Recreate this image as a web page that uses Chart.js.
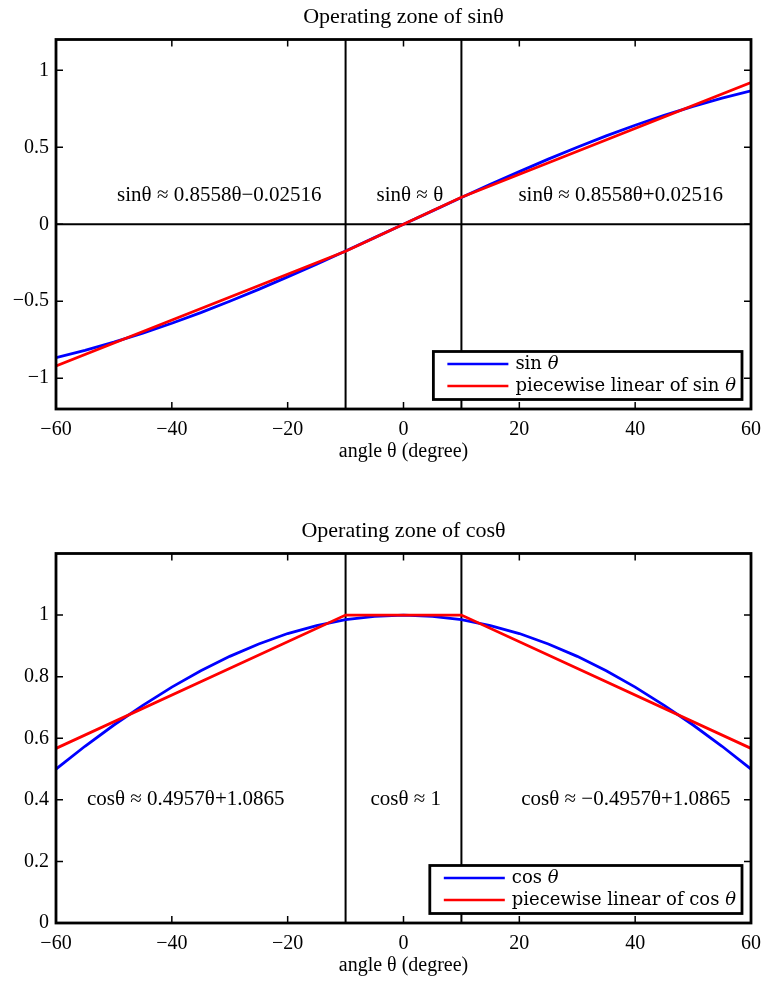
<!DOCTYPE html>
<html>
<head>
<meta charset="utf-8">
<script src="https://cdn.jsdelivr.net/npm/chart.js@4"></script>
<style>
  body { margin: 0; background: #fff; }
  #wrap { position: relative; width: 764px; height: 983px; }
  canvas { position: absolute; left: 0; }
</style>
</head>
<body>
<div id="wrap">
  <canvas id="sinChart" width="764" height="469" style="top:0"></canvas>
  <canvas id="cosChart" width="764" height="469" style="top:514px"></canvas>
</div>
<script>
/* --------------- Data --------------------- */
const angles = [-60, -55, -50, -45, -40, -35, -30, -25, -20, -15, -10, -5, 0,
                5, 10, 15, 20, 25, 30, 35, 40, 45, 50, 55, 60];
const sinValues = [-0.866, -0.819, -0.766, -0.707, -0.643, -0.574, -0.5, -0.423, -0.342, -0.259, -0.174, -0.087, 0,
                   0.087, 0.174, 0.259, 0.342, 0.423, 0.5, 0.574, 0.643, 0.707, 0.766, 0.819, 0.866];
const cosValues = [0.5, 0.574, 0.643, 0.707, 0.766, 0.819, 0.866, 0.906, 0.94, 0.966, 0.985, 0.996, 1,
                   0.996, 0.985, 0.966, 0.94, 0.906, 0.866, 0.819, 0.766, 0.707, 0.643, 0.574, 0.5];

const breakAngles = [-60, -10, 10, 60];
const sinLinear = [-0.921, -0.175, 0.175, 0.921];
const cosLinear = [0.567, 1, 1, 0.567];

const zoneEdges = [-10, 10];

const xTicks = [-60, -40, -20, 0, 20, 40, 60];
const sinTicks = [-1, -0.5, 0, 0.5, 1];
const cosTicks = [0, 0.2, 0.4, 0.6, 0.8, 1];

const sinNotes = ["sinθ ≈ 0.8558θ−0.02516", "sinθ ≈ θ", "sinθ ≈ 0.8558θ+0.02516"];
const cosNotes = ["cosθ ≈ 0.4957θ+1.0865", "cosθ ≈ 1", "cosθ ≈ −0.4957θ+1.0865"];

const SERIF = '"Liberation Serif", "Times New Roman", serif';
const LEG_FONT = '"DejaVu Serif", serif';
const LEG_SIZE = 18;

const pts = (xs, ys) => xs.map((v, i) => ({ x: v, y: ys[i] }));
const minus = (v) => String(v).replace("-", "\u2212");

/* --------------- Box, inward ticks, title, notes, legend --------------------- */
const matlabBox = {
  id: "matlabBox",
  afterDatasetsDraw(chart, args, opts) {
    const { ctx, chartArea: a, scales } = chart;
    const x = scales.x, y = scales.y;
    ctx.save();
    ctx.strokeStyle = "#000";
    ctx.fillStyle = "#000";

    // ticks pointing inward on all four sides
    ctx.lineWidth = 1.5;
    ctx.beginPath();
    x.ticks.forEach((t) => {
      const px = x.getPixelForValue(t.value);
      ctx.moveTo(px, a.bottom); ctx.lineTo(px, a.bottom - 7);
      ctx.moveTo(px, a.top); ctx.lineTo(px, a.top + 7);
    });
    y.ticks.forEach((t) => {
      const py = y.getPixelForValue(t.value);
      ctx.moveTo(a.left, py); ctx.lineTo(a.left + 7, py);
      ctx.moveTo(a.right, py); ctx.lineTo(a.right - 7, py);
    });
    ctx.stroke();

    // title centred over the plot box (matlab style)
    ctx.font = "22px " + SERIF;
    ctx.textAlign = "center";
    ctx.textBaseline = "middle";
    ctx.fillText(opts.title, (a.left + a.right) / 2, a.top - 22);

    // text notes in each zone
    ctx.font = "21px " + SERIF;
    opts.notes.forEach((n) => {
      ctx.fillText(n.text, x.getPixelForValue(n.x), y.getPixelForValue(n.y));
    });

    // legend in lower right corner
    const items = chart.data.datasets.filter((d) => d.label);
    ctx.font = LEG_SIZE + "px " + LEG_FONT;
    const textW = Math.max(...items.map((d) => ctx.measureText(d.label).width));
    const w = 82 + textW + 6, h = 48;
    const bx = a.right - 9 - w, by = a.bottom - 9.5 - h;
    ctx.fillStyle = "#fff";
    ctx.fillRect(bx, by, w, h);
    ctx.lineWidth = 2.8;
    ctx.strokeRect(bx, by, w, h);
    ctx.textAlign = "left";
    items.forEach((d, i) => {
      const ry = by + 12.5 + i * 22;
      ctx.strokeStyle = d.borderColor;
      ctx.lineWidth = 2.5;
      ctx.beginPath();
      ctx.moveTo(bx + 14, ry); ctx.lineTo(bx + 75, ry);
      ctx.stroke();
      // theta in italic, like the LaTeX legend
      ctx.fillStyle = "#000";
      let tx = bx + 82;
      d.label.split(/(θ)/).forEach((part) => {
        if (!part) return;
        ctx.font = (part === "θ" ? "italic " : "") + LEG_SIZE + "px " + LEG_FONT;
        ctx.fillText(part, tx, ry);
        tx += ctx.measureText(part).width;
      });
    });

    // frame last so it sits on top
    ctx.strokeStyle = "#000";
    ctx.lineWidth = 2.8;
    ctx.strokeRect(a.left, a.top, a.width, a.height);
    ctx.restore();
  },
};

/* --------------- Chart builder --------------------- */
function makeChart(id, cfg) {
  const lines = zoneEdges.map((e) => ({
    data: pts([e, e], [cfg.yMin, cfg.yMax]),
    borderColor: "#000", borderWidth: 2, order: 3,
  }));
  if (cfg.zeroLine) {
    lines.push({ data: pts([-60, 60], [0, 0]), borderColor: "#000", borderWidth: 2, order: 3 });
  }
  return new Chart(document.getElementById(id), {
    type: "line",
    plugins: [matlabBox],
    data: {
      datasets: [
        { label: cfg.curveLabel, data: pts(angles, cfg.curve), borderColor: "#0000ff", borderWidth: 2.8, order: 2 },
        { label: cfg.linLabel, data: pts(breakAngles, cfg.linear), borderColor: "#ff0000", borderWidth: 2.8, order: 1 },
        ...lines,
      ],
    },
    options: {
      responsive: false,
      animation: false,
      devicePixelRatio: 1,
      elements: { point: { radius: 0 }, line: { tension: 0 } },
      layout: { padding: { left: 0, right: 13, top: 39.5, bottom: 0 } },
      plugins: {
        legend: { display: false },
        title: { display: false },
        tooltip: { enabled: false },
        matlabBox: { title: cfg.title, notes: cfg.notes },
      },
      scales: {
        x: {
          type: "linear",
          min: -60,
          max: 60,
          grid: { display: false, drawTicks: false },
          border: { display: false },
          afterBuildTicks: (s) => { s.ticks = xTicks.map((v) => ({ value: v })); },
          afterFit: (s) => { s.height = 60; s.paddingLeft = 0; s.paddingRight = 0; },
          ticks: {
            color: "#000",
            padding: 9,
            maxRotation: 0,
            font: { family: SERIF, size: 20 },
            callback: (v) => minus(v),
          },
          title: {
            display: true,
            text: "angle θ (degree)",
            color: "#000",
            font: { family: SERIF, size: 20 },
            padding: { top: 0, bottom: 5 },
          },
        },
        y: {
          min: cfg.yMin,
          max: cfg.yMax,
          grid: { display: false, drawTicks: false },
          border: { display: false },
          afterBuildTicks: (s) => { s.ticks = cfg.yTicks.map((v) => ({ value: v })); },
          afterFit: (s) => { s.width = 56; s.paddingTop = 0; s.paddingBottom = 0; },
          ticks: {
            color: "#000",
            padding: 7,
            font: { family: SERIF, size: 20 },
            callback: (v) => minus(v),
          },
        },
      },
    },
  });
}

makeChart("sinChart", {
  title: "Operating zone of sinθ",
  curve: sinValues,
  linear: sinLinear,
  curveLabel: "sin θ",
  linLabel: "piecewise linear of sin θ",
  yMin: -1.2, yMax: 1.2,
  yTicks: sinTicks,
  zeroLine: true,
  notes: [
    { text: sinNotes[0], x: -31.8, y: 0.19 },
    { text: sinNotes[1], x: 1.1, y: 0.19 },
    { text: sinNotes[2], x: 37.5, y: 0.19 },
  ],
});

makeChart("cosChart", {
  title: "Operating zone of cosθ",
  curve: cosValues,
  linear: cosLinear,
  curveLabel: "cos θ",
  linLabel: "piecewise linear of cos θ",
  yMin: 0, yMax: 1.2,
  yTicks: cosTicks,
  zeroLine: false,
  notes: [
    { text: cosNotes[0], x: -37.6, y: 0.4 },
    { text: cosNotes[1], x: 0.4, y: 0.4 },
    { text: cosNotes[2], x: 38.4, y: 0.4 },
  ],
});
</script>
</body>
</html>
